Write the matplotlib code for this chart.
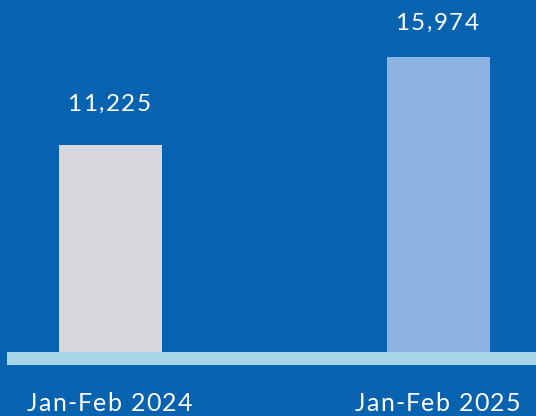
import matplotlib
matplotlib.use("Agg")
import matplotlib.pyplot as plt
from matplotlib.font_manager import FontProperties, findfont, get_font

categories = ["Jan-Feb 2024", "Jan-Feb 2025"]
values = [11225, 15974]
value_labels = ["11,225", "15,974"]
bar_colors = ["#D7D8DC", "#8DB3E2"]
label_offsets_px = [34, 27]

BG = "#0762B0"
STRIP = "#A9D5E8"
DPI = 100
W, H = 536, 416

fig = plt.figure(figsize=(W / DPI, H / DPI), dpi=DPI, facecolor=BG)
ax = fig.add_axes([0, 0, 1, 1])
ax.set_facecolor(BG)
for s in ax.spines.values():
    s.set_visible(False)
ax.set_xticks([])
ax.set_yticks([])

xs = list(range(len(categories)))
ax.bar(xs, values, width=103 / 328, color=bar_colors, zorder=2)

scale = 0.01845  # px per unit
ax.set_xlim(-110.5 / 328, (536 - 110.5) / 328)
ax.set_ylim(-(416 - 352) / scale, 352 / scale)
ax.axhspan(-12.5 / scale, 0, xmin=7 / 536, xmax=1, color=STRIP, zorder=3, lw=0)

fp = FontProperties(family="Lato", size=18)
font = get_font(findfont(fp))


def spaced_text(x, y, text, dx_px, dy_px, spacing_px, size_pt):
    font.set_size(size_pt, DPI)
    advs = []
    for ch in text:
        g = font.load_char(ord(ch))
        advs.append(g.linearHoriAdvance / 65536)
    total = sum(advs) + spacing_px * (len(text) - 1)
    cur = -total / 2 + dx_px
    for ch, a in zip(text, advs):
        ax.annotate(ch, (x, y), xytext=(cur, dy_px), textcoords="offset pixels",
                    ha="left", va="baseline", color="white",
                    fontproperties=FontProperties(family="Lato", size=size_pt),
                    zorder=4, annotation_clip=False)
        cur += a + spacing_px


for x, v, lab, off in zip(xs, values, value_labels, label_offsets_px):
    spaced_text(x, v, lab, -1.5, off, 1.5, 17.5)

for x, c in zip(xs, categories):
    spaced_text(x, 0, c, -1, -59, 1.2, 18)

fig.savefig("out.png", dpi=DPI, facecolor=BG)
